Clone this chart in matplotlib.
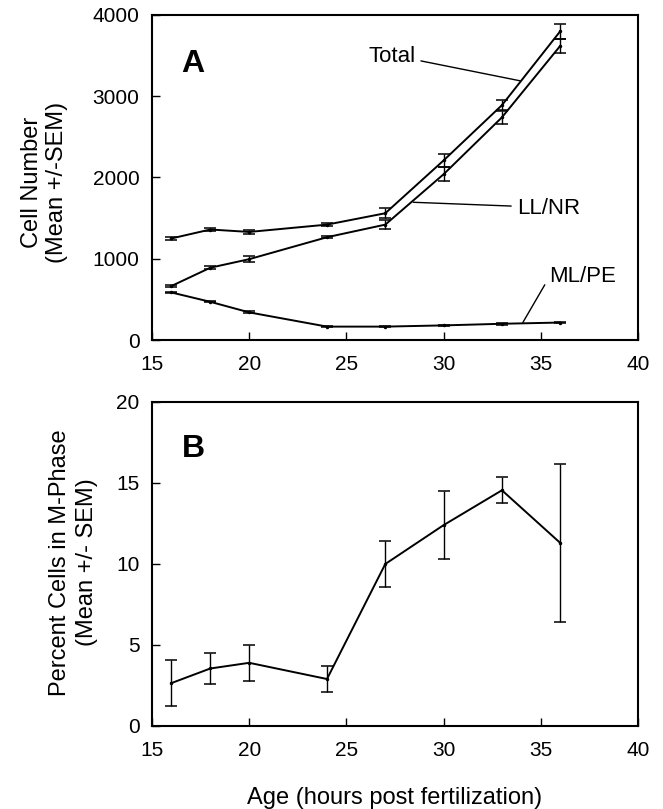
import numpy as np
import matplotlib
matplotlib.use("Agg")
import matplotlib.pyplot as plt

plt.rcParams['font.family'] = ['Liberation Sans', 'DejaVu Sans']

# Age (hours post fertilization)
hours = [16, 18, 20, 24, 27, 30, 33, 36]

# Panel A: cell number (mean, SEM)
total = [1250, 1360, 1330, 1420, 1560, 2210, 2890, 3800]
total_sem = [20, 20, 25, 15, 60, 75, 60, 90]
llnr = [665, 890, 995, 1265, 1420, 2040, 2740, 3620]
llnr_sem = [15, 15, 35, 15, 55, 85, 80, 90]
mlpe = [585, 470, 340, 165, 165, 180, 200, 215]
mlpe_sem = [10, 8, 12, 5, 5, 8, 10, 8]

# Panel B: percent cells in M-phase (mean, SEM)
mphase = [2.65, 3.55, 3.9, 2.9, 10.0, 12.4, 14.55, 11.3]
mphase_sem = [1.4, 0.93, 1.1, 0.8, 1.4, 2.1, 0.8, 4.85]

fig = plt.figure(figsize=(6.63, 8.09), dpi=100)
axA = fig.add_axes([0.2293, 0.5797, 0.733, 0.4018])
axB = fig.add_axes([0.2293, 0.1026, 0.733, 0.4005])

eb = dict(color='black', lw=1.4, capsize=4.5, elinewidth=1.0, capthick=1.1,
          marker='o', markersize=1.5)
for y, e in [(total, total_sem), (llnr, llnr_sem), (mlpe, mlpe_sem)]:
    axA.errorbar(hours, y, yerr=e, **eb)
axB.errorbar(hours, mphase, yerr=mphase_sem, **eb)

for ax in (axA, axB):
    ax.set_xlim(15, 40)
    ax.set_xticks(range(15, 41, 5))
    ax.tick_params(direction='in', length=6, width=1, labelsize=15, pad=9)
    ax.tick_params(axis='x', pad=11)
    for s in ax.spines.values():
        s.set_linewidth(1.5)

axA.set_ylim(0, 4000)
axA.set_yticks(range(0, 4001, 1000))
axB.set_ylim(0, 20)
axB.set_yticks(range(0, 21, 5))

axA.set_ylabel('Cell Number\n(Mean +/-SEM)', fontsize=17, linespacing=1.15)
axA.yaxis.set_label_coords(-0.173, 0.485)
axB.set_ylabel('Percent Cells in M-Phase\n(Mean +/- SEM)', fontsize=17, linespacing=1.3)
axB.yaxis.set_label_coords(-0.111, 0.505)
axB.set_xlabel('Age (hours post fertilization)', fontsize=17, labelpad=19)

axA.text(16.5, 3400, 'A', fontsize=23, fontweight='bold', va='center')
axB.text(16.55, 17.1, 'B', fontsize=23, fontweight='bold', va='center')

line = dict(arrowstyle='-', lw=1.0, color='black', shrinkB=0)
axA.annotate('Total', xy=(33.93, 3190), xytext=(28.55, 3487), fontsize=16,
             ha='right', va='center', arrowprops=dict(relpos=(1, 0.35), **line))
axA.annotate('LL/NR', xy=(28.44, 1695), xytext=(33.76, 1620), fontsize=16,
             ha='left', va='center', arrowprops=dict(relpos=(0, 0.6), **line))
axA.annotate('ML/PE', xy=(34.07, 213), xytext=(35.42, 781), fontsize=16,
             ha='left', va='center', arrowprops=dict(relpos=(0, 0.45), **line))

fig.savefig('out.png', dpi=100)
